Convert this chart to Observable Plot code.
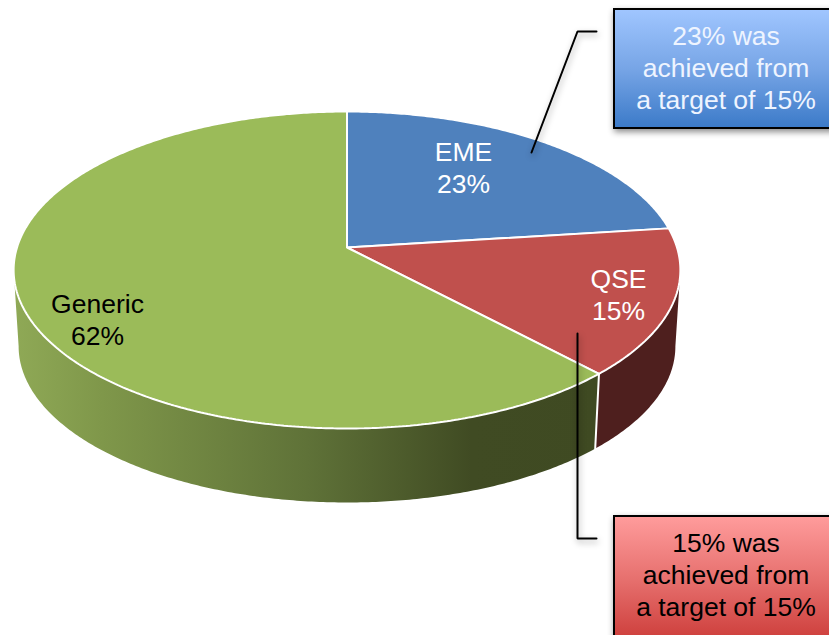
<!DOCTYPE html>
<html>
<head>
<meta charset="utf-8">
<script src="https://cdn.jsdelivr.net/npm/d3@7"></script>
<script src="https://cdn.jsdelivr.net/npm/@observablehq/plot@0.6"></script>
<style>
  html, body { margin: 0; padding: 0; background: #fff; }
  svg { display: block; }
</style>
</head>
<body>
<div id="chart"></div>
<script>
// Share of spend per category, clockwise from twelve o'clock
const categories = ["EME", "QSE", "Generic"];
const shares = [23, 15, 62];

const sliceLabels = ["EME\n23%", "QSE\n15%", "Generic\n62%"];
const calloutLabels = ["23% was\nachieved from\na target of 15%", "15% was\nachieved from\na target of 15%"];

// Colours
const topColors = ["#4f81bd", "#c0504d", "#9bbb59"];
const sideColors = ["#2a4465", "#4e1f1e", "url(#genericSide)"];
const labelColors = ["#ffffff", "#ffffff", "#000000"];
const calloutTextColors = ["#eef4ff", "#000000"];

// Layout of the tilted disc: a plane seen in perspective
const width = 829, height = 635;
const disc = {cx: 346.5, apexY: 247, rx: 330, ry: 155.3, tilt: -0.142};
const rim = {scale: 0.985, apexY: 323.7};

function project(angle, apexY, scale) {
  const X = Math.sin(angle), Y = -Math.cos(angle), w = 1 + disc.tilt * Y;
  return {x: disc.cx + scale * disc.rx * X / w, y: apexY + scale * disc.ry * Y / w};
}
function arc(a0, a1, apexY, scale) {
  const n = Math.max(2, Math.ceil((a1 - a0) / 0.01));
  return d3.range(n + 1).map(i => project(a0 + (a1 - a0) * i / n, apexY, scale));
}

// Cumulative angular extents derived from the shares
const total = d3.sum(shares);
const cumulative = d3.cumsum(shares);
const extents = shares.map((s, i) => [
  (cumulative[i] - s) / total * 2 * Math.PI,
  cumulative[i] / total * 2 * Math.PI
]);

// The wall is only visible between the two silhouette angles of the disc
const frontStart = Math.acos(disc.tilt);
const frontEnd = 2 * Math.PI - frontStart;

const apex = {x: disc.cx, y: disc.apexY};
const topFaces = extents.map(([a0, a1]) => [apex, ...arc(a0, a1, disc.apexY, 1), apex]);
const sideFaces = extents.map(([a0, a1]) => {
  const from = Math.max(a0, frontStart), to = Math.min(a1, frontEnd);
  if (from >= to) return [];
  const upper = arc(from, to, disc.apexY, 1);
  const lower = arc(from, to, rim.apexY, rim.scale).reverse();
  return [...upper, ...lower, upper[0]];
});
const seamAngle = extents[1][1];
const seam = [project(seamAngle, disc.apexY, 1), project(seamAngle, rim.apexY, rim.scale)];

// Annotation placement
const labelSpots = [{x: 463, y: 166}, {x: 618, y: 293}, {x: 97, y: 318}];
const leaders = [
  [{x: 596, y: 31}, {x: 577, y: 31}, {x: 531, y: 152}],
  [{x: 596, y: 538}, {x: 577, y: 538}, {x: 577, y: 333}]
];
const boxes = [
  {x1: 614, x2: 840, y1: 9, y2: 128, fill: "url(#calloutBlue)"},
  {x1: 614, x2: 840, y1: 516, y2: 645, fill: "url(#calloutRed)"}
];
const calloutSpots = [{x: 725.5, y: 66}, {x: 725.5, y: 573}];

// Gradient definitions shared by the side wall and the callouts
function gradients() {
  const defs = d3.create("svg:defs");
  const add = (id, attrs, stops) => {
    const g = defs.append("linearGradient").attr("id", id);
    Object.entries(attrs).forEach(([k, v]) => g.attr(k, v));
    stops.forEach(([o, c]) => g.append("stop").attr("offset", o).attr("stop-color", c));
  };
  add("genericSide", {gradientUnits: "userSpaceOnUse", x1: 14, x2: 600, y1: 0, y2: 0}, [
    [0, "#8fa956"], [0.15, "#7f974a"], [0.5, "#5f7238"], [0.78, "#404b23"], [1, "#3f4a22"]
  ]);
  add("calloutBlue", {x1: 0, x2: 0, y1: 0, y2: 1}, [[0, "#a0c6ff"], [0.5, "#77a5e6"], [1, "#3b7ac8"]]);
  add("calloutRed", {x1: 0, x2: 0, y1: 0, y2: 1}, [[0, "#ff9c9c"], [0.5, "#e66f6d"], [1, "#cb3a37"]]);
  return defs.node();
}

const textFont = {fontFamily: "Liberation Sans, Arial, sans-serif", fontSize: 26.5, lineHeight: 1.21};
const softShadow = "drop-shadow(1px 3px 3px rgba(0,0,0,0.35))";

const chart = Plot.plot({
  width, height,
  margin: 0,
  x: {domain: [0, width], range: [0, width], axis: null},
  y: {domain: [0, height], range: [0, height], axis: null},
  marks: [
    gradients,
    // Side wall
    ...categories.map((c, i) => Plot.line(sideFaces[i], {x: "x", y: "y", fill: sideColors[i], stroke: "none"})),
    Plot.line(seam, {x: "x", y: "y", stroke: "#ffffff", strokeWidth: 2}),
    // Top face
    ...categories.map((c, i) => Plot.line(topFaces[i], {
      x: "x", y: "y", fill: topColors[i], stroke: "#ffffff", strokeWidth: 2, strokeLinejoin: "miter"
    })),
    // Slice labels
    ...categories.map((c, i) => Plot.text([labelSpots[i]], {
      x: "x", y: "y", text: () => sliceLabels[i], fill: labelColors[i], ...textFont
    })),
    // Leader lines
    ...leaders.map(l => Plot.line(l, {
      x: "x", y: "y", stroke: "#000000", strokeWidth: 2, strokeLinejoin: "miter", imageFilter: softShadow
    })),
    // Callouts
    ...boxes.map(b => Plot.rect([b], {
      x1: "x1", x2: "x2", y1: "y1", y2: "y2", fill: b.fill, stroke: "#000000", strokeWidth: 2,
      imageFilter: "drop-shadow(1px 3px 3px rgba(0,0,0,0.45))"
    })),
    ...calloutSpots.map((s, i) => Plot.text([s], {
      x: "x", y: "y", text: () => calloutLabels[i], fill: calloutTextColors[i], ...textFont
    }))
  ]
});
document.getElementById("chart").append(chart);
</script>
</body>
</html>
